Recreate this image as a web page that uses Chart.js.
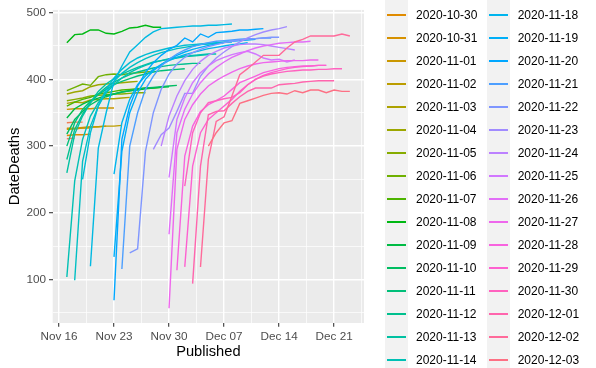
<!DOCTYPE html>
<html>
<head>
<meta charset="utf-8">
<script src="https://cdn.jsdelivr.net/npm/chart.js@4.4.0/dist/chart.umd.min.js"></script>
<style>
  html, body { margin: 0; padding: 0; background: #fff; overflow: hidden; }
  #wrap { position: relative; width: 596px; height: 368px; overflow: hidden; }
  #legend { position: absolute; left: 0; top: 0; width: 596px; height: 368px; font-family: "Liberation Sans", Arial, sans-serif; }
  .key { position: absolute; width: 23px; height: 23px; background: #f2f2f2; }
  .key span { position: absolute; left: 2px; right: 2px; top: 10.8px; height: 1.4px; }
  .lab { position: absolute; font-size: 12px; line-height: 23px; height: 23px; color: #000; white-space: nowrap; }
</style>
</head>
<body>
<div id="wrap">
  <canvas id="chart" width="596" height="368"></canvas>
  <div id="legend"></div>
</div>
<script>
// date of death (one line each)
const deathDates = [
    "2020-10-27", "2020-10-28", "2020-10-29", "2020-10-30", "2020-10-31",
    "2020-11-01", "2020-11-02", "2020-11-03", "2020-11-04", "2020-11-05",
    "2020-11-06", "2020-11-07", "2020-11-08", "2020-11-09", "2020-11-10",
    "2020-11-11", "2020-11-12", "2020-11-13", "2020-11-14", "2020-11-15",
    "2020-11-16", "2020-11-17", "2020-11-18", "2020-11-19", "2020-11-20",
    "2020-11-21", "2020-11-22", "2020-11-23", "2020-11-24", "2020-11-25",
    "2020-11-26", "2020-11-27", "2020-11-28", "2020-11-29", "2020-11-30",
    "2020-12-01", "2020-12-02", "2020-12-03"
];

// first published day of each line, in days after Nov 16
const startDay = [
    1, 1, 1, 1, 1, 1, 1, 1, 1, 1,
    1, 1, 1, 1, 1, 1, 1, 1, 1, 2,
    3, 4, 7, 7, 7, 8, 9, 12, 13, 14,
    14, 14, 15, 16, 16, 17, 18, 19
];

// deaths reported for that date, one value per published day
const deaths = [
    [311, 312],
    [335, 336, 336],
    [326, 326, 327, 327],
    [316, 317, 317, 318],
    [327, 327, 328, 329, 329, 330],
    [355, 356, 356, 356, 357, 357, 357],
    [325, 326, 327, 328, 329, 330, 330, 331],
    [364, 366, 365, 369, 370, 371, 371, 372, 373],
    [378, 381, 383, 389, 392, 393, 394, 395, 396, 397],
    [368, 370, 372, 375, 376, 377, 378, 378, 379, 380, 380],
    [383, 388, 393, 391, 404, 407, 408, 407, 409, 410, 411, 412],
    [360, 366, 370, 373, 378, 380, 382, 384, 385, 386, 387, 387, 388],
    [455, 467, 468, 474, 474, 469, 468, 472, 477, 478, 481, 478, 478],
    [342, 356, 363, 368, 372, 376, 378, 381, 383, 384, 386, 387, 388, 389],
    [318, 340, 352, 362, 369, 374, 378, 381, 383, 385, 387, 388, 389, 390, 391],
    [300, 335, 355, 367, 377, 385, 392, 397, 401, 405, 408, 411, 413, 414, 415, 416],
    [280, 325, 348, 365, 378, 388, 396, 402, 407, 411, 414, 417, 419, 421, 422, 423, 424, 424],
    [260, 318, 345, 365, 382, 393, 401, 408, 413, 418, 422, 426, 428, 430, 432, 434, 435, 436, 437],
    [104, 248, 310, 345, 365, 380, 392, 402, 410, 416, 421, 425, 428, 431, 433, 435, 436, 437, 438, 438],
    [99, 277, 330, 360, 381, 397, 409, 418, 425, 431, 436, 440, 443, 446, 448, 450, 452, 453, 454, 455],
    [250, 320, 360, 385, 402, 415, 425, 432, 437, 441, 444, 447, 449, 451, 452, 453, 454, 455, 456, 456],
    [120, 297, 350, 397, 420, 441, 452, 463, 471, 476, 477, 478, 479, 480, 480, 481, 481, 482, 483],
    [258, 335, 370, 392, 405, 415, 422, 428, 433, 437, 440, 443, 446, 448, 450, 452, 453, 455],
    [134, 292, 350, 380, 400, 413, 422, 430, 436, 441, 445, 448, 451, 453, 455, 457, 458, 459, 460],
    [69, 310, 360, 390, 410, 425, 436, 445, 451, 462, 456, 468, 463, 470, 471, 472, 474, 474, 475, 476],
    [116, 300, 350, 385, 405, 420, 430, 438, 444, 449, 452, 455, 457, 458, 459, 460, 461, 461, 462, 462],
    [140, 146, 292, 350, 385, 408, 423, 433, 440, 445, 449, 452, 455, 457, 459, 460, 461, 462, 463, 463],
    [295, 317, 327, 352, 379, 379, 405, 420, 432, 441, 449, 456, 462, 467, 471, 474, 476, 479],
    [300, 345, 375, 398, 415, 427, 436, 442, 447, 450, 452, 453, 453, 452, 450, 448, 446, 444],
    [253, 340, 372, 395, 410, 420, 428, 433, 437, 440, 442, 438, 432, 429, 430, 426, 429],
    [168, 320, 355, 378, 395, 408, 418, 426, 433, 438, 443, 447, 450, 452, 454, 455, 456, 456, 457],
    [57, 295, 340, 362, 378, 390, 398, 405, 411, 416, 420, 423, 425, 426, 427, 428, 428, 428, 429, 429],
    [114, 285, 330, 352, 362, 368, 375, 385, 395, 400, 405, 410, 413, 416, 418, 419, 420, 420, 421, 421],
    [119, 270, 320, 340, 350, 360, 370, 382, 392, 400, 406, 410, 413, 416, 418, 419, 420, 421, 421],
    [240, 320, 350, 365, 368, 371, 373, 380, 392, 400, 405, 408, 410, 412, 413, 414, 414, 415, 415, 416, 416],
    [94, 270, 347, 352, 353, 364, 374, 382, 387, 387, 387, 392, 393, 394, 396, 397, 398, 398, 398],
    [119, 280, 337, 344, 375, 407, 416, 426, 436, 436, 436, 447, 456, 460, 465, 465, 465, 465, 468, 465],
    [300, 320, 335, 338, 364, 368, 372, 376, 379, 380, 378, 383, 380, 384, 384, 380, 384, 382, 382]
];

const xTickDays = [0, 7, 14, 21, 28, 35];
const xTickLabels = ["Nov 16", "Nov 23", "Nov 30", "Dec 07", "Dec 14", "Dec 21"];
const yTickValues = [100, 200, 300, 400, 500];

const FONT = '"Liberation Sans", Arial, sans-serif';

// ggplot's default hue palette (HCL, c = 100, l = 65)
function hclColor(h, c, l) {
    const rad = h * Math.PI / 180;
    const U = c * Math.cos(rad), V = c * Math.sin(rad);
    const Y = 100 * (l > 7.999592 ? Math.pow((l + 16) / 116, 3) : l / 903.3);
    const u = U / (13 * l) + 0.1978398;
    const v = V / (13 * l) + 0.4683363;
    const X = 9 * Y * u / (4 * v);
    const Z = -X / 3 - 5 * Y + 3 * Y / v;
    const g = x => {
        x = x > 0.00304 ? 1.055 * Math.pow(x, 1 / 2.4) - 0.055 : 12.92 * x;
        return Math.round(Math.min(1, Math.max(0, x)) * 255);
    };
    const r = g((3.240479 * X - 1.537150 * Y - 0.498535 * Z) / 100);
    const gg = g((-0.969256 * X + 1.875992 * Y + 0.041556 * Z) / 100);
    const b = g((0.055648 * X - 0.204043 * Y + 1.057311 * Z) / 100);
    return "rgb(" + r + "," + gg + "," + b + ")";
}

const colors = deathDates.map((d, i) => hclColor(15 + 360 * i / deathDates.length, 100, 65));

const datasets = deathDates.map((d, i) => ({
    label: d,
    data: deaths[i].map((val, k) => ({ x: startDay[i] + k, y: val })),
    borderColor: colors[i],
    borderWidth: 1.4,
    pointRadius: 0,
    fill: false,
    tension: 0,
    order: deathDates.length - i   // later dates drawn on top, as in ggplot
}));

// grey panel behind the grid
const panelBg = {
    id: "panelBg",
    beforeDraw(chart) {
        const { ctx, chartArea: a } = chart;
        ctx.save();
        ctx.fillStyle = "#ebebeb";
        ctx.fillRect(a.left, a.top, a.right - a.left, a.bottom - a.top);
        ctx.restore();
    }
};

const xGrid = [];
for (let k = 0; k <= 11; k++) xGrid.push(k * 3.5);
const yGrid = [];
for (let v = 50; v <= 500; v += 50) yGrid.push(v);

const isMajorX = v => xTickDays.includes(v);
const isMajorY = v => yTickValues.includes(v);

new Chart(document.getElementById("chart"), {
    type: "line",
    data: { datasets },
    plugins: [panelBg],
    options: {
        responsive: false,
        animation: false,
        devicePixelRatio: 1,
        layout: { padding: { top: 7.8, right: 232, bottom: 0, left: 0 } },
        plugins: { legend: { display: false }, tooltip: { enabled: false } },
        scales: {
            x: {
                type: "linear",
                min: -0.8,
                max: 38.8,
                afterBuildTicks(axis) { axis.ticks = xGrid.map(v => ({ value: v })); },
                afterFit(axis) { axis.height = 45; },
                border: { display: false },
                grid: {
                    color: "#ffffff",
                    lineWidth: c => isMajorX(c.tick.value) ? 1.4 : 0.7,
                    tickLength: 3.67,
                    tickWidth: 1.07,
                    tickColor: c => isMajorX(c.tick.value) ? "#333333" : "rgba(0,0,0,0)"
                },
                ticks: {
                    autoSkip: false,
                    maxRotation: 0,
                    padding: 2.9,
                    color: "#4d4d4d",
                    font: { family: FONT, size: 11.73 },
                    callback: v => {
                        const j = xTickDays.indexOf(v);
                        return j >= 0 ? xTickLabels[j] : "";
                    }
                },
                title: {
                    display: true,
                    text: "Published",
                    color: "#000",
                    font: { family: FONT, size: 14.67 },
                    padding: { top: 0, bottom: 7.2 }
                }
            },
            y: {
                min: 35,
                max: 504,
                afterBuildTicks(axis) { axis.ticks = yGrid.map(v => ({ value: v })); },
                afterFit(axis) { axis.width = 52.7; },
                border: { display: false },
                grid: {
                    color: "#ffffff",
                    lineWidth: c => isMajorY(c.tick.value) ? 1.4 : 0.7,
                    tickLength: 3.67,
                    tickWidth: 1.07,
                    tickColor: c => isMajorY(c.tick.value) ? "#333333" : "rgba(0,0,0,0)"
                },
                ticks: {
                    autoSkip: false,
                    padding: 2.9,
                    color: "#4d4d4d",
                    font: { family: FONT, size: 11.73 },
                    callback: v => isMajorY(v) ? String(v) : ""
                },
                title: {
                    display: true,
                    text: "DateDeaths",
                    color: "#000",
                    font: { family: FONT, size: 14.67 },
                    padding: { top: 5.8, bottom: 0 }
                }
            }
        }
    }
});

// legend: two columns, the reference only shows part of it
const legendEl = document.getElementById("legend");
const rowsPerCol = Math.ceil(deathDates.length / 2);
deathDates.forEach((d, i) => {
    const col = Math.floor(i / rowsPerCol);
    const row = i % rowsPerCol;
    const top = 3.5 + (row - 3) * 23;
    const left = 385 + col * 101.7;

    const key = document.createElement("div");
    key.className = "key";
    key.style.left = left + "px";
    key.style.top = top + "px";
    const line = document.createElement("span");
    line.style.background = colors[i];
    key.appendChild(line);
    legendEl.appendChild(key);

    const lab = document.createElement("div");
    lab.className = "lab";
    lab.style.left = (left + 31) + "px";
    lab.style.top = top + "px";
    lab.textContent = d;
    legendEl.appendChild(lab);
});
</script>
</body>
</html>
